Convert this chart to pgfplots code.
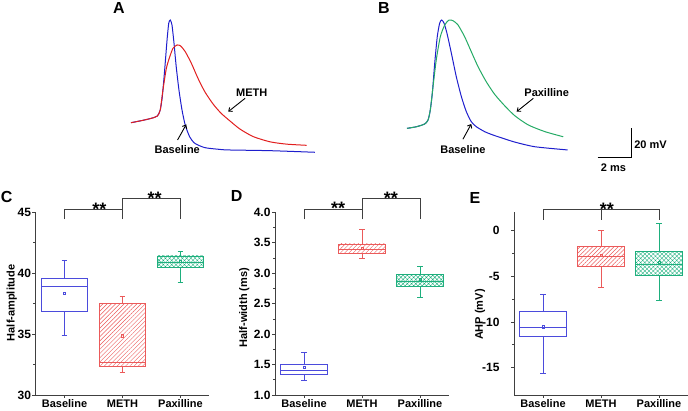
\documentclass[border=0pt]{standalone}
\usepackage{fontspec}
\setmainfont{Liberation Sans}
\usepackage{pgfplots}
\pgfplotsset{compat=1.18}
\usepgfplotslibrary{statistics}
\usetikzlibrary{patterns.meta,arrows.meta}

\definecolor{tblue}{RGB}{30,30,205}
\definecolor{tred}{RGB}{225,30,30}
\definecolor{tgreen}{RGB}{35,170,100}
\definecolor{bcol}{RGB}{75,75,220}
\definecolor{rcol}{RGB}{235,90,90}
\definecolor{gcol}{RGB}{30,175,125}

\newcommand{\lbl}{\bfseries\fontsize{11}{13}\selectfont}

\pgfplotsset{
  trace/.style={anchor=south west, x=17pt, y=1.45pt, xmin=0, xmax=12,
    ymin=-70, ymax=30, hide axis, clip=false},
  tr/.style={line width=1pt, smooth, tension=0.4},
  boxax/.style={scale only axis, width=174pt, height=182.7pt, anchor=south west,
    axis lines=left, axis line style={-, line width=0.8pt, black!75},
    xmin=-0.5, xmax=2.5, xtick={0,1,2}, xticklabels={Baseline,METH,Paxilline},
    minor x tick num=0, minor y tick num=1,
    tick style={black!75, line width=0.7pt}, tick align=outside,
    major tick length=3pt, minor tick length=2pt,
    x tick label style={font=\lbl, yshift=2pt},
    y tick label style={font=\bfseries\fontsize{12}{14}\selectfont},
    ylabel style={font=\lbl, anchor=center},
    /pgf/number format/assume math mode=true,
    boxplot/draw direction=y,
    boxplot/box extend=0.8, boxplot/whisker extend=0.1,
    clip=false},
  meanmk/.style={only marks, mark=square, mark size=1.2pt, mark options={line width=0.5pt}},
  meth/.style={rcol, line width=0.65pt,
    boxplot/every box/.style={pattern={Lines[angle=45,distance=3pt,line width=0.45pt]}, pattern color=rcol}},
  paxi/.style={gcol, line width=0.65pt,
    boxplot/every box/.style={pattern={Hatch[angle=45,distance=3pt,line width=0.4pt]}, pattern color=gcol}},
  base/.style={bcol, line width=0.65pt}
}

\begin{document}
\begin{tikzpicture}
\useasboundingbox (0pt,0pt) rectangle (688pt,411pt);

% A: traces
\begin{axis}[trace, at={(131pt,252.05pt)}]
\addplot[tblue, tr] coordinates {
(0,-45) (0.61,-43.6) (1.19,-42.0) (1.55,-40.4) (1.72,-36.2) (1.84,-27.1) (1.98,-8.7)
(2.12,12.0) (2.22,23.6) (2.31,25.8) (2.41,22.4) (2.53,9.8) (2.66,-6.4) (2.82,-22.4)
(3.0,-36.2) (3.19,-46.6) (3.45,-54.7) (3.75,-59.2) (4.34,-62.2) (5.12,-63.3)
(5.71,-63.8) (8.18,-64.3) (10.82,-65.4)};
\addplot[tred, tr] coordinates {
(0,-45) (0.61,-43.6) (1.19,-42.0) (1.55,-40.4) (1.72,-36.2) (1.88,-22.4) (2.08,-7.5)
(2.28,0.5) (2.47,6.3) (2.71,8.6) (2.92,7.9) (3.19,4.0) (3.55,-4.0) (3.94,-14.4)
(4.34,-23.6) (4.82,-32.0) (5.3,-38.5) (5.82,-43.8) (6.41,-49.4) (7.19,-54.6)
(8.18,-58.2) (9.16,-59.8) (10.33,-60.6)};
\node[font=\lbl] at (axis cs:7.1,-24) {METH};
\draw[-{Straight Barb[length=3pt,width=5pt]}, line width=0.9pt] (axis cs:6.71,-28.2) -- (axis cs:5.72,-37.4);
\node[font=\lbl] at (axis cs:2.72,-63.8) {Baseline};
\draw[-{Straight Barb[length=3pt,width=5pt]}, line width=0.9pt] (axis cs:2.74,-56.9) -- (axis cs:3.25,-46.2);
\end{axis}

% B: traces and scale bar
\begin{axis}[trace, at={(407pt,252.05pt)}, xmax=16]
\addplot[tblue, tr] coordinates {
(0,-48.9) (0.55,-47.8) (1.04,-45.9) (1.24,-43.1) (1.37,-36.2) (1.49,-24.7) (1.63,-4.0)
(1.78,14.3) (1.92,23.6) (2.04,25.8) (2.18,23.6) (2.35,16.7) (2.61,2.9) (2.9,-13.3)
(3.2,-27.1) (3.49,-37.4) (3.78,-44.3) (4.08,-47.8) (4.57,-51.2) (5.06,-53.5)
(5.65,-55.8) (6.35,-58.4) (7.53,-61.6) (9.45,-63.8)};
\addplot[tgreen, tr] coordinates {
(0,-48.9) (0.55,-47.8) (1.04,-45.9) (1.24,-43.1) (1.37,-36.2) (1.53,-20.2) (1.72,-1.8)
(1.96,14.3) (2.22,22.4) (2.47,25.8) (2.71,25.3) (3.0,22.4) (3.39,14.3) (3.78,4.0)
(4.18,-6.4) (4.66,-16.7) (5.16,-25.5) (5.76,-33.5) (6.35,-40.3) (7.14,-46.6)
(8.12,-51.2) (9.19,-54.7)};
\node[font=\lbl] at (axis cs:8.22,-24) {Paxilline};
\draw[-{Straight Barb[length=3pt,width=5pt]}, line width=0.9pt] (axis cs:7.43,-28.2) -- (axis cs:6.45,-37.4);
\node[font=\lbl] at (axis cs:3.29,-63.8) {Baseline};
\draw[-{Straight Barb[length=3pt,width=5pt]}, line width=0.9pt] (axis cs:3.29,-56.4) -- (axis cs:3.78,-45.9);
\draw[line width=1.4pt] (axis cs:11.22,-68.9) -- (axis cs:13.22,-68.9) -- (axis cs:13.22,-48.9);
\node[font=\lbl, anchor=west, inner sep=1pt] at (axis cs:13.3,-60.4) {20 mV};
\node[font=\lbl] at (axis cs:12.14,-76.2) {2 ms};
\end{axis}

% C: half-amplitude
\begin{axis}[boxax, at={(35.5pt,16pt)}, ymin=30, ymax=45, ytick={30,35,40,45},
  ylabel={Half-amplitude}, ylabel style={at={(axis description cs:-0.137,0.504)}},
  y tick label style={xshift=2pt}]
\addplot[base, boxplot prepared={draw position=0, lower whisker=34.89, lower quartile=36.83,
  median=38.93, upper quartile=39.57, upper whisker=41.07}] coordinates {};
\addplot[meth, boxplot prepared={draw position=1, lower whisker=31.89, lower quartile=32.38,
  median=32.65, upper quartile=37.51, upper whisker=38.06}] coordinates {};
\addplot[paxi, boxplot prepared={draw position=2, lower whisker=39.26, lower quartile=40.52,
  median=40.9, upper quartile=41.42, upper whisker=41.83}] coordinates {};
\addplot[bcol, meanmk] coordinates {(0,38.33)};
\addplot[rcol, meanmk] coordinates {(1,34.86)};
\addplot[gcol, meanmk] coordinates {(2,40.98)};
\draw[black!75, line width=0.8pt] (axis cs:0,44.43) -- (axis cs:0,45.25) -- (axis cs:1,45.25);
\draw[black!75, line width=0.8pt] (axis cs:1,44.43) -- (axis cs:1,46.15) -- (axis cs:2,46.15) -- (axis cs:2,44.43);
\node[font=\bfseries\fontsize{18}{20}\selectfont, anchor=base] at (axis cs:0.6,44.70) {**};
\node[font=\bfseries\fontsize{18}{20}\selectfont, anchor=base] at (axis cs:1.555,45.6) {**};
\end{axis}

% D: half-width
\begin{axis}[boxax, at={(275pt,16pt)}, ymin=1, ymax=4, ytick={1,1.5,...,4},
  ylabel={Half-width (ms)}, ylabel style={at={(axis description cs:-0.176,0.478)}},
  y tick label style={xshift=2pt, /pgf/number format/.cd, fixed, fixed zerofill, precision=1}]
\addplot[base, boxplot prepared={draw position=0, lower whisker=1.24, lower quartile=1.34,
  median=1.40, upper quartile=1.50, upper whisker=1.70}] coordinates {};
\addplot[meth, boxplot prepared={draw position=1, lower whisker=3.24, lower quartile=3.32,
  median=3.40, upper quartile=3.48, upper whisker=3.72}] coordinates {};
\addplot[paxi, boxplot prepared={draw position=2, lower whisker=2.60, lower quartile=2.78,
  median=2.87, upper quartile=2.98, upper whisker=3.11}] coordinates {};
\addplot[bcol, meanmk] coordinates {(0,1.46)};
\addplot[rcol, meanmk] coordinates {(1,3.41)};
\addplot[gcol, meanmk] coordinates {(2,2.90)};
\draw[black!75, line width=0.8pt] (axis cs:0,3.885) -- (axis cs:0,4.049) -- (axis cs:1,4.049);
\draw[black!75, line width=0.8pt] (axis cs:1,3.885) -- (axis cs:1,4.23) -- (axis cs:2,4.23) -- (axis cs:2,3.885);
\node[font=\bfseries\fontsize{18}{20}\selectfont, anchor=base] at (axis cs:0.59,3.956) {**};
\node[font=\bfseries\fontsize{18}{20}\selectfont, anchor=base] at (axis cs:1.5,4.12) {**};
\end{axis}

% E: AHP
\begin{axis}[boxax, at={(514pt,16pt)}, ymin=-18, ymax=2, ytick={-15,-10,-5,0},
  ylabel={AHP (mV)}, ylabel style={at={(axis description cs:-0.195,0.44)}},
  y tick label style={xshift=-8pt}]
\addplot[base, boxplot prepared={draw position=0, lower whisker=-15.6, lower quartile=-11.6,
  median=-10.6, upper quartile=-8.8, upper whisker=-6.94}] coordinates {};
\addplot[meth, boxplot prepared={draw position=1, lower whisker=-6.24, lower quartile=-3.87,
  median=-2.85, upper quartile=-1.75, upper whisker=0}] coordinates {};
\addplot[paxi, boxplot prepared={draw position=2, lower whisker=-7.6, lower quartile=-4.93,
  median=-3.72, upper quartile=-2.3, upper whisker=0.8}] coordinates {};
\addplot[bcol, meanmk] coordinates {(0,-10.55)};
\addplot[rcol, meanmk] coordinates {(1,-2.7)};
\addplot[gcol, meanmk] coordinates {(2,-3.47)};
\draw[black!75, line width=0.8pt] (axis cs:0,1.2) -- (axis cs:0,2.3) -- (axis cs:2,2.3) -- (axis cs:2,1.2);
\draw[black!75, line width=0.8pt] (axis cs:1,2.3) -- (axis cs:1,1.2);
\node[font=\bfseries\fontsize{18}{20}\selectfont, anchor=base] at (axis cs:1.1,1.68) {**};
\end{axis}

% panel letters
\node[font=\bfseries\fontsize{16}{18}\selectfont] at (119pt,403pt) {A};
\node[font=\bfseries\fontsize{16}{18}\selectfont] at (384pt,403pt) {B};
\node[font=\bfseries\fontsize{16}{18}\selectfont] at (6.7pt,214.3pt) {C};
\node[font=\bfseries\fontsize{16}{18}\selectfont] at (236.7pt,215pt) {D};
\node[font=\bfseries\fontsize{16}{18}\selectfont] at (475pt,212.7pt) {E};
\end{tikzpicture}
\end{document}
